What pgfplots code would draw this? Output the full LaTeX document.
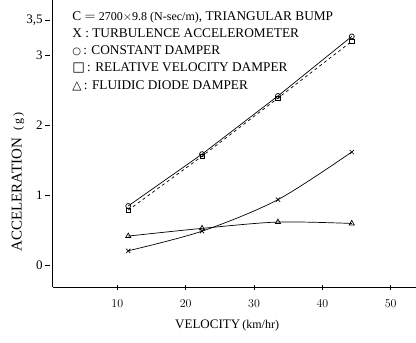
\documentclass[border=0pt]{standalone}
\usepackage{fontspec}
\setmainfont{Liberation Serif}
\newfontfamily\sym{DejaVu Sans}
\usepackage{pgfplots}
\pgfplotsset{compat=1.18}
\begin{document}
\begin{tikzpicture}
\begin{axis}[
  scale only axis, width=363bp, height=287bp,
  xmin=0.55, xmax=53.7, ymin=-0.31, ymax=3.79,
  axis lines=left,
  axis line style={-, line width=0.9pt},
  xtick={10,20,30,40,50},
  ytick={0,1,2,3,3.5}, yticklabels={0,1,2,3,{3,5}},
  major tick length=5bp,
  tick style={black, line width=0.7pt},
  y tick style={xshift=-5bp},
  tick label style={font=\fontsize{13bp}{15bp}\selectfont},
  yticklabel style={xshift=-4bp},
  xticklabel style={yshift=-7bp},
  xlabel={VELOCITY\,{\fontsize{12bp}{14bp}\selectfont(km/hr)}},
  ylabel={ACCELERATION\ \ {\fontsize{12bp}{14bp}\selectfont(\,g\,)}},
  xlabel style={font=\fontsize{13bp}{15bp}\selectfont, at={(axis description cs:0.48,-0.132)}, anchor=center},
  ylabel style={font=\fontsize{15bp}{17bp}\selectfont, at={(axis description cs:-0.096,0.366)}, anchor=center},
  clip=false,
]
\addplot[black, line width=0.7pt, smooth, mark=x, mark size=3bp] coordinates {(11.6,0.21)(22.4,0.49)(33.5,0.94)(44.3,1.62)};
\addplot[black, line width=0.7pt, mark=o, mark size=2.5bp] coordinates {(11.6,0.85)(22.4,1.59)(33.5,2.42)(44.3,3.27)};
\addplot[black, line width=0.7pt, dashed, mark=square, mark options={solid}, mark size=2.2bp] coordinates {(11.6,0.79)(22.4,1.56)(33.5,2.39)(44.3,3.20)};
\addplot[black, line width=0.7pt, smooth, mark=triangle, mark size=3bp] coordinates {(11.6,0.42)(22.4,0.53)(33.5,0.62)(44.3,0.60)};
\node[anchor=north west, align=left, inner sep=0pt, font=\fontsize{13.3bp}{17.2bp}\selectfont] at (axis cs:3.4,3.63)
 {C $=$ {\fontsize{12bp}{14bp}\selectfont 2700$\times$9.8 (N-sec/m)}, TRIANGULAR BUMP\\
  X : TURBULENCE ACCELEROMETER\\
  {\sym\fontsize{10bp}{12bp}\selectfont ○}\,: CONSTANT DAMPER\\
  {\sym □}\,: RELATIVE VELOCITY DAMPER\\
  {\sym\fontsize{12bp}{12bp}\selectfont △}\,: FLUIDIC DIODE DAMPER};
\end{axis}
\pgfresetboundingbox
\path (current axis.south west) ++(-52.7bp,-55bp) rectangle (current axis.north east);
\end{tikzpicture}
\end{document}
